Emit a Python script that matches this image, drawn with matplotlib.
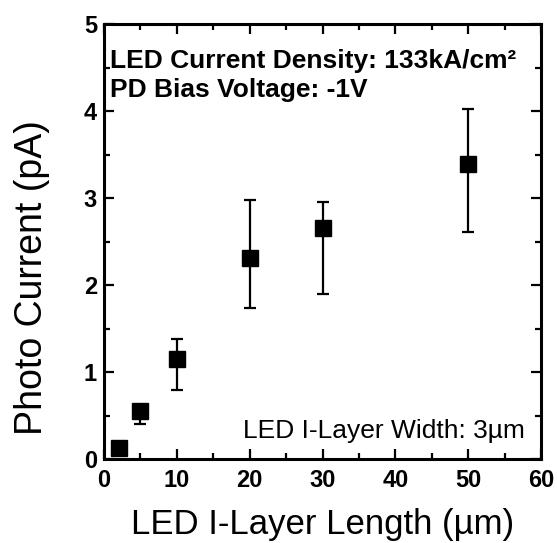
import matplotlib
matplotlib.use("Agg")
import matplotlib.pyplot as plt
from matplotlib.ticker import MultipleLocator
import numpy as np

# Data
length_um = [2, 5, 10, 20, 30, 50]
photo_current_pA = [0.13, 0.55, 1.15, 2.31, 2.65, 3.39]
err_low = [0.13 - 0.05, 0.55 - 0.40, 1.15 - 0.79, 2.31 - 1.73, 2.65 - 1.90, 3.39 - 2.61]
err_high = [0.05, 0.05, 1.38 - 1.15, 2.98 - 2.31, 2.95 - 2.65, 4.02 - 3.39]
xticks = [0, 10, 20, 30, 40, 50, 60]
yticks = [0, 1, 2, 3, 4, 5]

plt.rcParams['font.family'] = ['Liberation Sans', 'DejaVu Sans']

fig = plt.figure(figsize=(5.57, 5.43), dpi=100)
ax = fig.add_axes([104/557, 84/543, (541-104)/557, (459-24)/543])

ax.errorbar(length_um, photo_current_pA, yerr=[err_low, err_high], fmt='s',
            color='black', ms=11.5, elinewidth=1.6, capsize=4, capthick=1.6,
            clip_on=False, zorder=3)

ax.set_xlim(0, 60)
ax.set_ylim(0, 5)
ax.set_xticks(xticks)
ax.set_yticks(yticks)
ax.xaxis.set_minor_locator(MultipleLocator(5))
ax.yaxis.set_minor_locator(MultipleLocator(0.5))
ax.tick_params(which='both', direction='in', top=True, right=True, width=1.6)
ax.tick_params(which='major', length=7, labelsize=17, pad=7)
ax.tick_params(which='minor', length=4)
ax.tick_params(axis='y', which='major', pad=5)
for lab in ax.get_xticklabels() + ax.get_yticklabels():
    lab.set_fontweight('bold')
for sp in ax.spines.values():
    sp.set_linewidth(2.2)

ax.set_xlabel('LED I-Layer Length (µm)', fontsize=25, labelpad=12)
ax.set_ylabel('Photo Current (pA)', fontsize=27)
ax.yaxis.set_label_coords(-0.165, 0.418)
ax.yaxis.label.set_verticalalignment('center')
ax.yaxis.label.set_horizontalalignment('center')

ax.text(0.014, 0.899, 'LED Current Density: 133kA/cm²', transform=ax.transAxes,
        fontsize=19, fontweight='bold', ha='left', va='baseline')
ax.text(0.014, 0.832, 'PD Bias Voltage: -1V', transform=ax.transAxes,
        fontsize=19, fontweight='bold', ha='left', va='baseline')
ax.text(0.963, 0.048, 'LED I-Layer Width: 3µm', transform=ax.transAxes,
        fontsize=19, ha='right', va='baseline')

fig.savefig('out.png', dpi=100)
